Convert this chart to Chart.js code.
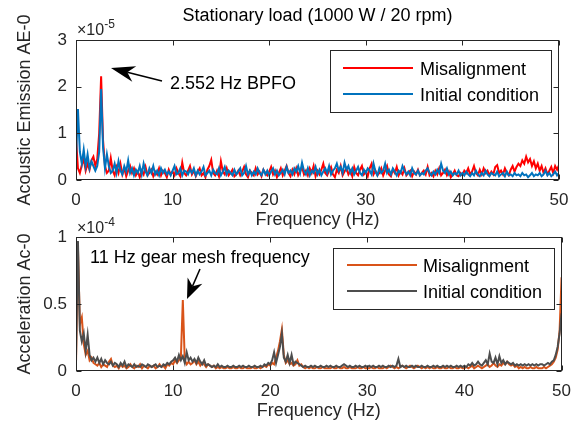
<!DOCTYPE html>
<html>
<head>
<meta charset="utf-8">
<script src="https://cdn.jsdelivr.net/npm/chart.js@4.4.0/dist/chart.umd.min.js"></script>
<style>
  body { margin: 0; background: #fff; }
  #wrap { position: relative; width: 581px; height: 425px; overflow: hidden; }
  canvas { position: absolute; left: 0; }
  #topChart { top: 0; }
  #bottomChart { top: 200px; }
</style>
</head>
<body>
<div id="wrap">
  <canvas id="topChart" width="581" height="235"></canvas>
  <canvas id="bottomChart" width="581" height="225"></canvas>
</div>
<script>
// spectra sampled every 0.2 Hz from 0 to 50 Hz
const STEP = 0.2;
const seriesNames = ['Misalignment', 'Initial condition'];
const xTicks = [0, 10, 20, 30, 40, 50];
const aeTicks = [0, 1, 2, 3];
const acTicks = [0, 0.5, 1];

// acoustic emission, x 1e-5
const aeMisalign = [
  0.92, 0.25, 0.15, 0.32, 0.45, 0.2, 0.35, 0.22, 0.42, 0.5,
  0.3, 0.45, 1.0, 2.22, 0.85, 0.3, 0.15, 0.2, 0.47, 0.2,
  0.1, 0.28, 0.15, 0.35, 0.12, 0.25, 0.08, 0.2, 0.3, 0.15,
  0.25, 0.1, 0.18, 0.06, 0.2, 0.12, 0.28, 0.1, 0.15, 0.22,
  0.08, 0.18, 0.12, 0.25, 0.1, 0.2, 0.15, 0.06, 0.22, 0.12,
  0.18, 0.1, 0.25, 0.15, 0.08, 0.37, 0.15, 0.1, 0.2, 0.3,
  0.12, 0.2, 0.08, 0.18, 0.25, 0.1, 0.15, 0.06, 0.22, 0.3,
  0.43, 0.15, 0.1, 0.2, 0.08, 0.4, 0.18, 0.12, 0.25, 0.1,
  0.15, 0.22, 0.08, 0.12, 0.2, 0.1, 0.18, 0.28, 0.12, 0.06,
  0.2, 0.15, 0.1, 0.25, 0.12, 0.18, 0.08, 0.22, 0.15, 0.1,
  0.18, 0.28, 0.12, 0.2, 0.06, 0.15, 0.25, 0.1, 0.2, 0.3,
  0.15, 0.08, 0.22, 0.12, 0.25, 0.1, 0.18, 0.28, 0.12, 0.2,
  0.1, 0.25, 0.15, 0.3, 0.08, 0.2, 0.12, 0.22, 0.35, 0.15,
  0.1, 0.2, 0.28, 0.12, 0.06, 0.22, 0.15, 0.3, 0.1, 0.18,
  0.25, 0.12, 0.2, 0.08, 0.28, 0.15, 0.1, 0.22, 0.3, 0.12,
  0.18, 0.08, 0.25, 0.35, 0.12, 0.2, 0.1, 0.15, 0.25, 0.1,
  0.2, 0.3, 0.12, 0.08, 0.22, 0.15, 0.28, 0.1, 0.18, 0.12,
  0.25, 0.1, 0.15, 0.2, 0.08, 0.18, 0.12, 0.22, 0.1, 0.15,
  0.2, 0.12, 0.28, 0.1, 0.15, 0.08, 0.2, 0.12, 0.25, 0.1,
  0.15, 0.22, 0.1, 0.18, 0.06, 0.12, 0.2, 0.1, 0.08, 0.15,
  0.1, 0.2, 0.15, 0.25, 0.12, 0.18, 0.3, 0.15, 0.1, 0.22,
  0.12, 0.25, 0.15, 0.2, 0.1, 0.18, 0.12, 0.28, 0.32, 0.15,
  0.2, 0.12, 0.25, 0.15, 0.1, 0.22, 0.3, 0.18, 0.28, 0.35,
  0.3, 0.42, 0.35, 0.5, 0.38, 0.45, 0.3, 0.4, 0.25, 0.35,
  0.2, 0.3, 0.15, 0.25, 0.12, 0.2, 0.28, 0.15, 0.3, 0.22,
  0.32
];
const aeInitial = [
  0.45, 1.52, 0.6, 0.35, 0.65, 0.3, 0.55, 0.25, 0.4, 0.3,
  0.2, 0.3, 0.6, 1.95, 0.7, 0.25, 0.55, 0.3, 0.15, 0.2,
  0.35, 0.15, 0.4, 0.2, 0.12, 0.3, 0.18, 0.42, 0.15, 0.25,
  0.1, 0.22, 0.15, 0.3, 0.12, 0.35, 0.18, 0.1, 0.25, 0.15,
  0.3, 0.12, 0.2, 0.1, 0.25, 0.15, 0.22, 0.12, 0.18, 0.1,
  0.2, 0.3, 0.12, 0.15, 0.25, 0.1, 0.2, 0.18, 0.12, 0.22,
  0.15, 0.25, 0.1, 0.2, 0.12, 0.18, 0.28, 0.1, 0.15, 0.2,
  0.1, 0.22, 0.15, 0.12, 0.25, 0.1, 0.18, 0.28, 0.12, 0.2,
  0.15, 0.1, 0.22, 0.12, 0.18, 0.25, 0.1, 0.15, 0.3, 0.12,
  0.2, 0.1, 0.18, 0.12, 0.25, 0.15, 0.1, 0.22, 0.12, 0.2,
  0.1, 0.18, 0.25, 0.12, 0.2, 0.1, 0.15, 0.22, 0.12, 0.28,
  0.15, 0.2, 0.12, 0.25, 0.18, 0.3, 0.15, 0.37, 0.2, 0.12,
  0.25, 0.1, 0.2, 0.15, 0.28, 0.12, 0.22, 0.1, 0.18, 0.25,
  0.15, 0.3, 0.12, 0.2, 0.25, 0.35, 0.2, 0.28, 0.15, 0.37,
  0.22, 0.3, 0.15, 0.25, 0.12, 0.2, 0.28, 0.15, 0.1, 0.22,
  0.15, 0.25, 0.2, 0.12, 0.35, 0.18, 0.1, 0.25, 0.15, 0.2,
  0.35, 0.15, 0.22, 0.12, 0.25, 0.18, 0.1, 0.2, 0.15, 0.3,
  0.2, 0.12, 0.18, 0.1, 0.25, 0.15, 0.12, 0.2, 0.1, 0.15,
  0.12, 0.2, 0.25, 0.15, 0.1, 0.18, 0.12, 0.22, 0.15, 0.35,
  0.2, 0.15, 0.25, 0.12, 0.18, 0.1, 0.15, 0.12, 0.2, 0.1,
  0.15, 0.1, 0.18, 0.12, 0.08, 0.15, 0.1, 0.2, 0.12, 0.08,
  0.15, 0.1, 0.2, 0.12, 0.08, 0.15, 0.12, 0.1, 0.18, 0.08,
  0.12, 0.15, 0.08, 0.18, 0.1, 0.12, 0.08, 0.15, 0.1, 0.12,
  0.08, 0.15, 0.1, 0.12, 0.06, 0.1, 0.15, 0.08, 0.12, 0.1,
  0.15, 0.08, 0.12, 0.2, 0.1, 0.15, 0.08, 0.12, 0.18, 0.1,
  0.15
];

// acceleration, x 1e-4
const acMisalign = [
  0.05, 0.92, 0.35, 0.4, 0.2, 0.12, 0.15, 0.08, 0.1, 0.06,
  0.05, 0.04, 0.06, 0.03, 0.05, 0.04, 0.03, 0.07, 0.09, 0.04,
  0.03, 0.04, 0.02, 0.05, 0.03, 0.04, 0.02, 0.03, 0.05, 0.03,
  0.02, 0.04, 0.03, 0.05, 0.02, 0.04, 0.03, 0.02, 0.04, 0.03,
  0.04, 0.02, 0.03, 0.05, 0.03, 0.04, 0.02, 0.05, 0.04, 0.06,
  0.05, 0.08, 0.06, 0.08, 0.1, 0.53, 0.08, 0.05, 0.07, 0.05,
  0.06, 0.08, 0.05, 0.07, 0.04, 0.06, 0.05, 0.03, 0.05, 0.04,
  0.03, 0.04, 0.02, 0.03, 0.02, 0.03, 0.02, 0.02, 0.03, 0.02,
  0.02, 0.03, 0.02, 0.02, 0.03, 0.02, 0.02, 0.03, 0.02, 0.02,
  0.02, 0.03, 0.02, 0.02, 0.03, 0.02, 0.03, 0.04, 0.03, 0.05,
  0.04, 0.06, 0.05, 0.1, 0.15, 0.22, 0.31, 0.12, 0.06, 0.08,
  0.05, 0.06, 0.04, 0.05, 0.08, 0.04, 0.05, 0.03, 0.02, 0.03,
  0.02, 0.03, 0.02, 0.02, 0.03, 0.02, 0.02, 0.03, 0.02, 0.02,
  0.02, 0.02, 0.03, 0.02, 0.02, 0.03, 0.02, 0.02, 0.03, 0.02,
  0.02, 0.03, 0.02, 0.02, 0.02, 0.03, 0.02, 0.02, 0.03, 0.02,
  0.02, 0.02, 0.03, 0.02, 0.02, 0.03, 0.02, 0.02, 0.02, 0.03,
  0.02, 0.03, 0.04, 0.03, 0.02, 0.03, 0.02, 0.03, 0.04, 0.03,
  0.02, 0.03, 0.04, 0.03, 0.02, 0.03, 0.04, 0.03, 0.02, 0.03,
  0.02, 0.03, 0.02, 0.03, 0.02, 0.02, 0.03, 0.02, 0.02, 0.03,
  0.02, 0.02, 0.03, 0.02, 0.02, 0.03, 0.02, 0.02, 0.03, 0.02,
  0.02, 0.03, 0.02, 0.03, 0.04, 0.02, 0.03, 0.04, 0.03, 0.02,
  0.03, 0.04, 0.05, 0.03, 0.04, 0.06, 0.04, 0.03, 0.05, 0.04,
  0.06, 0.05, 0.07, 0.05, 0.04, 0.05, 0.03, 0.04, 0.02, 0.03,
  0.02, 0.03, 0.02, 0.02, 0.03, 0.02, 0.02, 0.03, 0.02, 0.02,
  0.02, 0.03, 0.02, 0.03, 0.04, 0.05, 0.07, 0.1, 0.16, 0.3,
  0.7
];
const acInitial = [
  0.1, 0.97, 0.3, 0.22, 0.28, 0.15, 0.27, 0.12, 0.08, 0.1,
  0.07, 0.1, 0.06, 0.09, 0.05, 0.08, 0.06, 0.05, 0.07, 0.04,
  0.06, 0.05, 0.03, 0.06, 0.04, 0.07, 0.03, 0.05, 0.04, 0.03,
  0.05, 0.03, 0.04, 0.03, 0.05, 0.04, 0.03, 0.05, 0.04, 0.03,
  0.04, 0.05, 0.03, 0.04, 0.03, 0.05, 0.04, 0.06, 0.05, 0.07,
  0.08, 0.1, 0.07, 0.12, 0.08, 0.11, 0.06, 0.14, 0.08, 0.1,
  0.07, 0.09, 0.06, 0.1, 0.07, 0.05, 0.08, 0.04, 0.05, 0.04,
  0.03, 0.04, 0.03, 0.05, 0.03, 0.04, 0.03, 0.03, 0.04, 0.03,
  0.03, 0.04, 0.03, 0.03, 0.04, 0.03, 0.04, 0.03, 0.03, 0.04,
  0.03, 0.03, 0.04, 0.03, 0.03, 0.04, 0.03, 0.05, 0.04, 0.06,
  0.05, 0.08, 0.14, 0.06, 0.12, 0.18, 0.28, 0.1, 0.07, 0.12,
  0.06, 0.12, 0.05, 0.07, 0.06, 0.05, 0.04, 0.03, 0.04, 0.03,
  0.03, 0.04, 0.03, 0.04, 0.03, 0.03, 0.04, 0.03, 0.03, 0.04,
  0.03, 0.04, 0.03, 0.03, 0.04, 0.03, 0.03, 0.04, 0.05, 0.04,
  0.03, 0.04, 0.03, 0.03, 0.04, 0.03, 0.04, 0.03, 0.03, 0.04,
  0.03, 0.04, 0.03, 0.04, 0.03, 0.03, 0.04, 0.03, 0.04, 0.03,
  0.03, 0.04, 0.03, 0.04, 0.03, 0.04, 0.09, 0.03, 0.04, 0.03,
  0.04, 0.03, 0.03, 0.04, 0.03, 0.04, 0.03, 0.03, 0.04, 0.03,
  0.03, 0.04, 0.03, 0.03, 0.04, 0.03, 0.04, 0.03, 0.03, 0.04,
  0.03, 0.04, 0.03, 0.04, 0.03, 0.03, 0.04, 0.03, 0.04, 0.03,
  0.04, 0.03, 0.05, 0.04, 0.06, 0.04, 0.05, 0.07, 0.05, 0.04,
  0.06, 0.08, 0.05, 0.13, 0.07, 0.06, 0.1, 0.05, 0.11, 0.06,
  0.08, 0.05, 0.07, 0.06, 0.05, 0.06, 0.04, 0.05, 0.04, 0.05,
  0.04, 0.05, 0.04, 0.05, 0.04, 0.05, 0.04, 0.05, 0.04, 0.05,
  0.05, 0.04, 0.05, 0.06, 0.05, 0.07, 0.08, 0.12, 0.18, 0.28,
  0.43
];

const freq = aeMisalign.map((_, i) => Math.round(i * STEP * 10) / 10);

Chart.defaults.font.family = '"Liberation Sans", Arial, Helvetica, sans-serif';
Chart.defaults.color = '#262626';

const AXIS = '#262626';

function toPoints(values) {
  return values.map((v, i) => ({ x: freq[i], y: v }));
}

function drawArrow(ctx, tail, tip, headLen, headHalf) {
  const dx = tail.x - tip.x, dy = tail.y - tip.y;
  const len = Math.hypot(dx, dy);
  const ux = dx / len, uy = dy / len;
  const px = -uy, py = ux;
  const bx = tip.x + ux * headLen, by = tip.y + uy * headLen;
  const nx = tip.x + ux * headLen * 0.7, ny = tip.y + uy * headLen * 0.7;
  ctx.beginPath();
  ctx.moveTo(tail.x, tail.y);
  ctx.lineTo(nx, ny);
  ctx.strokeStyle = '#000';
  ctx.lineWidth = 1.5;
  ctx.stroke();
  ctx.beginPath();
  ctx.moveTo(tip.x, tip.y);
  ctx.lineTo(bx + px * headHalf, by + py * headHalf);
  ctx.lineTo(nx, ny);
  ctx.lineTo(bx - px * headHalf, by - py * headHalf);
  ctx.closePath();
  ctx.fillStyle = '#000';
  ctx.fill();
}

function drawLegend(ctx, box, colors) {
  ctx.fillStyle = '#fff';
  ctx.fillRect(box.x, box.y, box.w, box.h);
  ctx.strokeStyle = AXIS;
  ctx.lineWidth = 1;
  ctx.strokeRect(box.x + 0.5, box.y + 0.5, box.w, box.h);
  ctx.font = '18px "Liberation Sans", Arial, sans-serif';
  ctx.textAlign = 'left';
  ctx.textBaseline = 'alphabetic';
  seriesNames.forEach((name, i) => {
    const y = box.rows[i];
    ctx.beginPath();
    ctx.moveTo(box.lineX0, y);
    ctx.lineTo(box.lineX1, y);
    ctx.strokeStyle = colors[i];
    ctx.lineWidth = 2;
    ctx.stroke();
    ctx.fillStyle = '#000';
    ctx.fillText(name, box.textX, y + 7);
  });
}

function drawExponent(ctx, x, baseline, exp) {
  ctx.fillStyle = AXIS;
  ctx.textAlign = 'left';
  ctx.textBaseline = 'alphabetic';
  ctx.font = '16px "Liberation Sans", Arial, sans-serif';
  ctx.fillText('\u00d710', x, baseline);
  const w = ctx.measureText('\u00d710').width;
  ctx.font = '12px "Liberation Sans", Arial, sans-serif';
  ctx.fillText(exp, x + w, baseline - 7);
}

function framePlugin(extra) {
  return {
    id: 'matlabFrame',
    afterDatasetsDraw(chart) {
      const { ctx, chartArea: a, scales } = chart;
      ctx.save();
      ctx.strokeStyle = AXIS;
      ctx.lineWidth = 1;
      const l = Math.round(a.left) + 0.5, r = Math.round(a.right) - 0.5;
      const t = Math.round(a.top) + 0.5, b = Math.round(a.bottom) - 0.5;
      ctx.strokeRect(l, t, r - l, b - t);
      ctx.beginPath();
      scales.x.ticks.forEach(tk => {
        const x = Math.round(scales.x.getPixelForValue(tk.value)) + 0.5;
        ctx.moveTo(x, b); ctx.lineTo(x, b - 5);
        ctx.moveTo(x, t); ctx.lineTo(x, t + 5);
      });
      scales.y.ticks.forEach(tk => {
        const y = Math.round(scales.y.getPixelForValue(tk.value)) + 0.5;
        ctx.moveTo(l, y); ctx.lineTo(l + 5, y);
        ctx.moveTo(r, y); ctx.lineTo(r - 5, y);
      });
      ctx.stroke();
      extra(ctx, a);
      ctx.restore();
    }
  };
}

function makeOptions(cfg) {
  return {
    responsive: false,
    animation: false,
    devicePixelRatio: 1,
    layout: { padding: cfg.padding },
    plugins: { legend: { display: false }, tooltip: { enabled: false } },
    elements: { point: { radius: 0 }, line: { tension: 0, borderWidth: 2 } },
    scales: {
      x: {
        type: 'linear',
        min: 0, max: 50,
        afterBuildTicks: s => { s.ticks = xTicks.map(v => ({ value: v })); },
        afterFit: s => { s.height = 53; },
        grid: { display: false, drawTicks: false },
        border: { display: false },
        ticks: { padding: 10, font: { size: 17 }, color: AXIS, callback: v => String(v) },
        title: { display: true, text: 'Frequency (Hz)', font: { size: 18 }, color: AXIS, padding: { top: 0, bottom: 2 } }
      },
      y: {
        min: 0, max: cfg.yMax,
        afterBuildTicks: s => { s.ticks = cfg.yTicks.map(v => ({ value: v })); },
        afterFit: s => { s.width = 76; },
        grid: { display: false, drawTicks: false },
        border: { display: false },
        ticks: { padding: 9, font: { size: 17 }, color: AXIS, callback: v => String(v) },
        title: { display: true, text: cfg.yTitle, font: { size: 18 }, color: AXIS, padding: { top: 14, bottom: 0 } }
      }
    }
  };
}

const topColors = ['#ff0000', '#0072bd'];
new Chart(document.getElementById('topChart'), {
  type: 'line',
  data: {
    datasets: [
      { label: seriesNames[0], data: toPoints(aeMisalign), borderColor: topColors[0], order: 1 },
      { label: seriesNames[1], data: toPoints(aeInitial), borderColor: topColors[1], order: 0 }
    ]
  },
  options: makeOptions({ yMax: 3, yTicks: aeTicks, yTitle: 'Acoustic Emission AE-0',
    padding: { top: 40, right: 22, bottom: 2, left: 0 } }),
  plugins: [framePlugin((ctx, a) => {
    ctx.fillStyle = '#000';
    ctx.font = '18px "Liberation Sans", Arial, sans-serif';
    ctx.textAlign = 'center';
    ctx.textBaseline = 'alphabetic';
    ctx.fillText('Stationary load (1000 W / 20 rpm)', (a.left + a.right) / 2, 21);
    drawExponent(ctx, 77, 35, '-5');
    ctx.fillStyle = '#000';
    ctx.font = '18px "Liberation Sans", Arial, sans-serif';
    ctx.textAlign = 'left';
    ctx.fillText('2.552 Hz BPFO', 170, 89);
    drawArrow(ctx, { x: 162, y: 81 }, { x: 111, y: 68 }, 24, 8);
    drawLegend(ctx, { x: 330, y: 50, w: 221, h: 62, rows: [68, 94], lineX0: 343, lineX1: 413, textX: 420 }, topColors);
  })]
});

const bottomColors = ['#d95319', '#4d4d4d'];
new Chart(document.getElementById('bottomChart'), {
  type: 'line',
  data: {
    datasets: [
      { label: seriesNames[0], data: toPoints(acMisalign), borderColor: bottomColors[0], order: 1 },
      { label: seriesNames[1], data: toPoints(acInitial), borderColor: bottomColors[1], order: 0 }
    ]
  },
  options: makeOptions({ yMax: 1, yTicks: acTicks, yTitle: 'Acceleration Ac-0',
    padding: { top: 37, right: 18, bottom: 1, left: 0 } }),
  plugins: [framePlugin((ctx, a) => {
    drawExponent(ctx, 77, 33, '-4');
    ctx.fillStyle = '#000';
    ctx.font = '18px "Liberation Sans", Arial, sans-serif';
    ctx.textAlign = 'left';
    ctx.textBaseline = 'alphabetic';
    ctx.fillText('11 Hz gear mesh frequency', 90, 63);
    drawArrow(ctx, { x: 200, y: 69 }, { x: 187, y: 99 }, 20, 8);
    drawLegend(ctx, { x: 333, y: 48, w: 221, h: 61, rows: [65, 91], lineX0: 347, lineX1: 417, textX: 423 }, bottomColors);
  })]
});
</script>
</body>
</html>
